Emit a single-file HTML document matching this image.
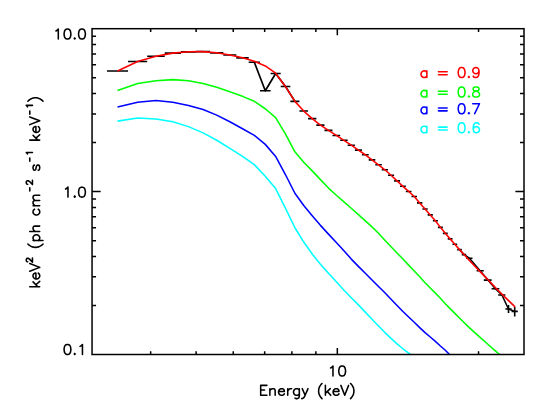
<!DOCTYPE html>
<html lang="en">
<head>
<meta charset="utf-8">
<title>Energy spectrum: keV2 (ph cm-2 s-1 keV-1) vs Energy (keV)</title>
<style>
html,body{margin:0;padding:0;background:#fff;}
body{width:551px;height:413px;overflow:hidden;font-family:"Liberation Sans",sans-serif;}
svg{display:block;}
</style>
</head>
<body>
<svg width="551" height="413" viewBox="0 0 551 413" style="display:block;font-family:'Liberation Sans',sans-serif">
<rect x="0" y="0" width="551" height="413" fill="#fff"/>
<polyline points="254.34,62.20 265.28,90.80 275.64,73.50 285.53,86.50 294.90,101.36" fill="none" stroke="#000" stroke-width="1.70" stroke-linejoin="round" />
<polyline points="459.46,249.62 464.01,254.60 469.40,258.20 480.10,270.80 487.90,280.10 495.40,288.80 501.90,295.00 508.50,309.00 514.70,311.40" fill="none" stroke="#000" stroke-width="1.55" stroke-linejoin="round" />
<path d="M107.04 70.95H128.05 M128.05 61.43H147.18 M147.18 56.32H164.73 M164.73 53.12H180.94 M180.94 51.83H196.02 M196.02 51.62H210.12 M210.12 52.85H223.35 M223.35 55.01H236.34 M236.34 57.83H248.71 M248.71 62.20H259.98 M259.98 90.80H270.58 M270.58 73.50H280.70 M280.70 86.50H290.37 M290.37 101.36H299.43 M299.43 111.06H308.05 M308.05 118.61H316.35 M316.35 125.08H324.49 M324.49 130.38H332.48 M332.48 135.45H340.20 M340.20 140.31H347.67 M347.67 145.20H354.90 M354.90 150.17H361.91 M361.91 154.76H368.71 M368.71 159.88H375.32 M375.32 164.78H381.75 M381.75 169.79H388.00 M388.00 175.25H394.09 M394.09 180.91H400.03 M400.03 186.32H405.83 M405.83 191.43H411.48 M411.48 196.55H417.01 M417.01 202.92H422.41 M422.41 209.01H427.69 M427.69 214.89H432.85 M432.85 220.79H437.91 M437.91 227.35H442.87 M442.87 233.35H447.73 M447.73 238.87H452.49 M452.49 244.31H457.17 M457.17 249.62H461.75 M461.75 254.60H466.26 M466.30 258.20H472.50 M476.60 270.80H483.80 M483.80 280.10H491.60 M491.60 288.80H499.30 M498.20 295.00H505.40 M505.40 309.00H511.60 M511.60 311.40H517.80 M508.5 304.9V313.1 M514.7 306.9V316.6" fill="none" stroke="#000" stroke-width="1.6"/>
<polyline points="117.54,70.95 137.62,61.43 155.95,56.32 172.83,53.12 188.48,51.83 203.07,51.62 216.73,52.85 229.85,55.01 242.53,57.83 254.34,61.33 265.28,65.92 275.64,73.17 285.53,86.68 294.90,101.36 303.74,111.06 312.20,118.61 320.42,125.08 328.49,130.38 336.34,135.45 343.93,140.31 351.28,145.20 358.40,150.17 365.31,154.76 372.01,159.88 378.53,164.78 384.87,169.79 391.05,175.25 397.06,180.91 402.93,186.32 408.65,191.43 414.24,196.55 419.71,202.92 425.05,209.01 430.27,214.89 435.38,220.79 440.39,227.35 445.30,233.35 450.11,238.87 454.83,244.31 459.46,249.62 464.01,254.60 469.40,260.53 480.10,271.65 487.90,279.63 495.40,287.58 501.90,294.15 508.50,300.63 515.10,306.90" fill="none" stroke="#ff0000" stroke-width="1.55" stroke-linejoin="round" />
<polyline points="117.54,90.55 137.62,83.52 155.95,80.65 172.83,79.61 188.48,80.80 203.07,83.40 216.73,87.34 229.85,91.67 242.53,96.34 254.34,101.31 265.28,108.76 275.64,117.63 285.53,134.16 294.90,151.83 303.74,162.32 312.20,170.88 320.42,179.63 328.49,188.06 336.34,195.24 343.93,201.84 351.28,208.23 358.40,214.63 365.31,220.84 372.01,226.88 378.53,233.28 384.87,240.16 391.05,246.72 397.06,252.97 402.93,259.08 408.65,265.10 414.24,270.99 419.71,276.80 425.05,282.70 430.27,288.07 435.38,293.13 440.39,298.20 445.30,303.68 450.11,308.66 454.83,313.33 459.46,317.97 464.01,322.50 468.47,326.87 472.85,330.94 479.26,336.70 487.58,344.02 495.63,351.05 499.60,354.50" fill="none" stroke="#00ff00" stroke-width="1.55" stroke-linejoin="round" />
<polyline points="117.54,106.96 137.62,102.16 155.95,100.50 172.83,102.22 188.48,105.46 203.07,109.52 216.73,115.10 229.85,121.79 242.53,128.71 254.34,135.39 265.28,144.38 275.64,156.41 285.53,174.77 294.90,193.25 303.74,205.52 312.20,215.75 320.42,225.37 328.49,234.12 336.34,242.50 343.93,250.68 351.28,259.11 358.40,266.41 365.31,273.27 372.01,280.02 378.53,286.52 384.87,292.77 391.05,299.24 397.06,305.43 402.93,311.43 408.65,317.02 414.24,322.30 419.71,327.64 425.05,332.65 430.27,337.02 435.38,341.40 440.39,345.99 445.30,350.29 449.50,354.50" fill="none" stroke="#0000ff" stroke-width="1.55" stroke-linejoin="round" />
<polyline points="117.54,121.13 137.62,118.10 155.95,119.05 172.83,121.73 188.48,126.63 203.07,132.90 216.73,140.25 229.85,148.40 242.53,156.32 254.34,164.65 265.28,176.19 275.64,188.58 285.53,208.35 294.90,227.74 303.74,242.07 312.20,254.05 320.42,264.19 328.49,273.24 336.34,281.84 343.93,290.26 351.28,297.78 358.40,304.92 365.31,312.10 372.01,319.20 378.53,325.93 384.87,332.57 391.05,338.42 397.06,343.87 402.93,348.76 408.65,353.12 410.60,354.50" fill="none" stroke="#00ffff" stroke-width="1.55" stroke-linejoin="round" />
<path d="M150.66 354.50v-3.25 M150.66 28.70v3.25 M196.12 354.50v-3.25 M196.12 28.70v3.25 M233.26 354.50v-3.25 M233.26 28.70v3.25 M264.67 354.50v-3.25 M264.67 28.70v3.25 M291.87 354.50v-3.25 M291.87 28.70v3.25 M315.86 354.50v-3.25 M315.86 28.70v3.25 M337.33 354.50v-6.50 M337.33 28.70v6.50 M478.54 354.50v-3.25 M478.54 28.70v3.25 M92.05 191.60h8.60 M524.00 191.60h-8.60 M92.05 142.56h4.00 M524.00 142.56h-4.00 M92.05 113.88h4.00 M524.00 113.88h-4.00 M92.05 93.52h4.00 M524.00 93.52h-4.00 M92.05 77.74h4.00 M524.00 77.74h-4.00 M92.05 64.84h4.00 M524.00 64.84h-4.00 M92.05 53.93h4.00 M524.00 53.93h-4.00 M92.05 44.49h4.00 M524.00 44.49h-4.00 M92.05 36.15h4.00 M524.00 36.15h-4.00 M92.05 305.46h4.00 M524.00 305.46h-4.00 M92.05 276.78h4.00 M524.00 276.78h-4.00 M92.05 256.42h4.00 M524.00 256.42h-4.00 M92.05 240.64h4.00 M524.00 240.64h-4.00 M92.05 227.74h4.00 M524.00 227.74h-4.00 M92.05 216.83h4.00 M524.00 216.83h-4.00 M92.05 207.39h4.00 M524.00 207.39h-4.00 M92.05 199.05h4.00 M524.00 199.05h-4.00" fill="none" stroke="#000" stroke-width="1.50"/>
<rect x="92.05" y="28.70" width="431.95" height="325.80" fill="none" stroke="#000" stroke-width="1.50" stroke-linejoin="miter"/>
<path d="M55.89 30.94 L56.85 30.47 L58.30 29.05 L58.30 39.00 M67.00 29.05 L65.55 29.52 L64.58 30.94 L64.10 33.31 L64.10 34.73 L64.58 37.10 L65.55 38.53 L67.00 39.00 L67.96 39.00 L69.41 38.53 L70.38 37.10 L70.86 34.73 L70.86 33.31 L70.38 30.94 L69.41 29.52 L67.96 29.05 L67.00 29.05 M74.72 38.05 L74.24 38.53 L74.72 39.00 L75.21 38.53 L74.72 38.05 M81.49 29.05 L80.04 29.52 L79.07 30.94 L78.59 33.31 L78.59 34.73 L79.07 37.10 L80.04 38.53 L81.49 39.00 L82.45 39.00 L83.90 38.53 L84.87 37.10 L85.35 34.73 L85.35 33.31 L84.87 30.94 L83.90 29.52 L82.45 29.05 L81.49 29.05" fill="none" stroke="#000" stroke-width="1.55" stroke-linecap="round" stroke-linejoin="round"/>
<path d="M65.55 189.04 L66.51 188.57 L67.96 187.15 L67.96 197.10 M74.72 196.15 L74.24 196.63 L74.72 197.10 L75.21 196.63 L74.72 196.15 M81.49 187.15 L80.04 187.62 L79.07 189.04 L78.59 191.41 L78.59 192.83 L79.07 195.20 L80.04 196.63 L81.49 197.10 L82.45 197.10 L83.90 196.63 L84.87 195.20 L85.35 192.83 L85.35 191.41 L84.87 189.04 L83.90 187.62 L82.45 187.15 L81.49 187.15" fill="none" stroke="#000" stroke-width="1.55" stroke-linecap="round" stroke-linejoin="round"/>
<path d="M67.00 344.45 L65.55 344.92 L64.58 346.34 L64.10 348.71 L64.10 350.13 L64.58 352.50 L65.55 353.93 L67.00 354.40 L67.96 354.40 L69.41 353.93 L70.38 352.50 L70.86 350.13 L70.86 348.71 L70.38 346.34 L69.41 344.92 L67.96 344.45 L67.00 344.45 M74.72 353.45 L74.24 353.93 L74.72 354.40 L75.21 353.93 L74.72 353.45 M80.04 346.34 L81.00 345.87 L82.45 344.45 L82.45 354.40" fill="none" stroke="#000" stroke-width="1.55" stroke-linecap="round" stroke-linejoin="round"/>
<path d="M330.57 367.94 L331.53 367.47 L332.98 366.05 L332.98 376.00 M341.68 366.05 L340.23 366.52 L339.26 367.94 L338.78 370.31 L338.78 371.73 L339.26 374.10 L340.23 375.53 L341.68 376.00 L342.64 376.00 L344.09 375.53 L345.06 374.10 L345.54 371.73 L345.54 370.31 L345.06 367.94 L344.09 366.52 L342.64 366.05 L341.68 366.05" fill="none" stroke="#000" stroke-width="1.55" stroke-linecap="round" stroke-linejoin="round"/>
<path d="M260.68 385.35 L260.68 395.30 M260.68 385.35 L266.96 385.35 M260.68 390.09 L264.55 390.09 M260.68 395.30 L266.96 395.30 M269.86 388.66 L269.86 395.30 M269.86 390.56 L271.31 389.14 L272.27 388.66 L273.72 388.66 L274.69 389.14 L275.17 390.56 L275.17 395.30 M278.55 391.51 L284.35 391.51 L284.35 390.56 L283.87 389.61 L283.38 389.14 L282.42 388.66 L280.97 388.66 L280.00 389.14 L279.04 390.09 L278.55 391.51 L278.55 392.46 L279.04 393.88 L280.00 394.83 L280.97 395.30 L282.42 395.30 L283.38 394.83 L284.35 393.88 M287.73 388.66 L287.73 395.30 M287.73 391.51 L288.21 390.09 L289.18 389.14 L290.14 388.66 L291.59 388.66 M299.32 388.66 L299.32 396.25 L298.84 397.67 L298.36 398.14 L297.39 398.62 L295.94 398.62 L294.98 398.14 M299.32 390.09 L298.36 389.14 L297.39 388.66 L295.94 388.66 L294.98 389.14 L294.01 390.09 L293.53 391.51 L293.53 392.46 L294.01 393.88 L294.98 394.83 L295.94 395.30 L297.39 395.30 L298.36 394.83 L299.32 393.88 M302.22 388.66 L305.12 395.30 M308.02 388.66 L305.12 395.30 L304.15 397.20 L303.19 398.14 L302.22 398.62 L301.74 398.62 M322.02 383.45 L321.06 384.40 L320.09 385.82 L319.12 387.72 L318.64 390.09 L318.64 391.98 L319.12 394.35 L320.09 396.25 L321.06 397.67 L322.02 398.62 M325.40 385.35 L325.40 395.30 M330.23 388.66 L325.40 393.40 M327.34 391.51 L330.72 395.30 M333.13 391.51 L338.93 391.51 L338.93 390.56 L338.44 389.61 L337.96 389.14 L337.00 388.66 L335.55 388.66 L334.58 389.14 L333.62 390.09 L333.13 391.51 L333.13 392.46 L333.62 393.88 L334.58 394.83 L335.55 395.30 L337.00 395.30 L337.96 394.83 L338.93 393.88 M340.86 385.35 L344.72 395.30 M348.59 385.35 L344.72 395.30 M350.52 383.45 L351.49 384.40 L352.45 385.82 L353.42 387.72 L353.90 390.09 L353.90 391.98 L353.42 394.35 L352.45 396.25 L351.49 397.67 L350.52 398.62" fill="none" stroke="#000" stroke-width="1.55" stroke-linecap="round" stroke-linejoin="round"/>
<path d="M29.75 286.67 L39.70 286.67 M33.06 281.84 L37.80 286.67 M35.91 284.74 L39.70 281.36 M35.91 278.94 L35.91 273.14 L34.96 273.14 L34.01 273.63 L33.54 274.11 L33.06 275.08 L33.06 276.53 L33.54 277.49 L34.49 278.46 L35.91 278.94 L36.86 278.94 L38.28 278.46 L39.23 277.49 L39.70 276.53 L39.70 275.08 L39.23 274.11 L38.28 273.14 M29.75 271.21 L39.70 267.35 M29.75 263.48 L39.70 267.35 M27.75 261.80 L27.45 261.80 L26.86 261.50 L26.57 261.20 L26.28 260.61 L26.28 259.41 L26.57 258.81 L26.86 258.51 L27.45 258.21 L28.04 258.21 L28.63 258.51 L29.51 259.11 L32.45 262.10 L32.45 257.91 M27.85 243.97 L28.80 244.94 L30.22 245.90 L32.12 246.87 L34.49 247.35 L36.38 247.35 L38.75 246.87 L40.65 245.90 L42.07 244.94 L43.02 243.97 M33.06 240.59 L43.02 240.59 M34.49 240.59 L33.54 239.62 L33.06 238.66 L33.06 237.21 L33.54 236.24 L34.49 235.28 L35.91 234.79 L36.86 234.79 L38.28 235.28 L39.23 236.24 L39.70 237.21 L39.70 238.66 L39.23 239.62 L38.28 240.59 M29.75 231.41 L39.70 231.41 M34.96 231.41 L33.54 229.96 L33.06 229.00 L33.06 227.55 L33.54 226.58 L34.96 226.10 L39.70 226.10 M34.49 209.19 L33.54 210.16 L33.06 211.13 L33.06 212.58 L33.54 213.54 L34.49 214.51 L35.91 214.99 L36.86 214.99 L38.28 214.51 L39.23 213.54 L39.70 212.58 L39.70 211.13 L39.23 210.16 L38.28 209.19 M33.06 205.81 L39.70 205.81 M34.96 205.81 L33.54 204.36 L33.06 203.40 L33.06 201.95 L33.54 200.98 L34.96 200.50 L39.70 200.50 M34.96 200.50 L33.54 199.05 L33.06 198.09 L33.06 196.64 L33.54 195.67 L34.96 195.19 L39.70 195.19 M29.80 191.01 L29.80 187.72 M27.75 184.27 L27.45 184.27 L26.86 183.97 L26.57 183.67 L26.28 183.07 L26.28 181.88 L26.57 181.28 L26.86 180.98 L27.45 180.68 L28.04 180.68 L28.63 180.98 L29.51 181.58 L32.45 184.57 L32.45 180.38 M34.49 164.99 L33.54 165.47 L33.06 166.92 L33.06 168.37 L33.54 169.82 L34.49 170.30 L35.43 169.82 L35.91 168.85 L36.38 166.44 L36.86 165.47 L37.80 164.99 L38.28 164.99 L39.23 165.47 L39.70 166.92 L39.70 168.37 L39.23 169.82 L38.28 170.30 M29.80 161.30 L29.80 158.00 M27.45 153.96 L27.16 153.36 L26.28 152.46 L32.45 152.46 M29.75 140.11 L39.70 140.11 M33.06 135.28 L37.80 140.11 M35.91 138.17 L39.70 134.79 M35.91 132.38 L35.91 126.58 L34.96 126.58 L34.01 127.07 L33.54 127.55 L33.06 128.51 L33.06 129.96 L33.54 130.93 L34.49 131.90 L35.91 132.38 L36.86 132.38 L38.28 131.90 L39.23 130.93 L39.70 129.96 L39.70 128.51 L39.23 127.55 L38.28 126.58 M29.75 124.65 L39.70 120.79 M29.75 116.92 L39.70 120.79 M29.80 114.19 L29.80 110.90 M27.45 106.86 L27.16 106.26 L26.28 105.36 L32.45 105.36 M27.85 101.22 L28.80 100.25 L30.22 99.28 L32.12 98.32 L34.49 97.83 L36.38 97.83 L38.75 98.32 L40.65 99.28 L42.07 100.25 L43.02 101.22" fill="none" stroke="#000" stroke-width="1.55" stroke-linecap="round" stroke-linejoin="round"/>
<path d="M426.85 70.86 L426.85 77.50 M426.85 72.29 L425.88 71.34 L424.91 70.86 L423.46 70.86 L422.50 71.34 L421.53 72.29 L421.05 73.71 L421.05 74.66 L421.53 76.08 L422.50 77.03 L423.46 77.50 L424.91 77.50 L425.88 77.03 L426.85 76.08 M438.44 71.81 L447.13 71.81 M438.44 74.66 L447.13 74.66 M461.14 67.55 L459.69 68.02 L458.72 69.44 L458.24 71.81 L458.24 73.23 L458.72 75.60 L459.69 77.03 L461.14 77.50 L462.10 77.50 L463.55 77.03 L464.52 75.60 L465.00 73.23 L465.00 71.81 L464.52 69.44 L463.55 68.02 L462.10 67.55 L461.14 67.55 M468.87 76.55 L468.38 77.03 L468.87 77.50 L469.35 77.03 L468.87 76.55 M479.01 70.86 L478.53 72.29 L477.56 73.23 L476.11 73.71 L475.63 73.71 L474.18 73.23 L473.21 72.29 L472.73 70.86 L472.73 70.39 L473.21 68.97 L474.18 68.02 L475.63 67.55 L476.11 67.55 L477.56 68.02 L478.53 68.97 L479.01 70.86 L479.01 73.23 L478.53 75.60 L477.56 77.03 L476.11 77.50 L475.15 77.50 L473.70 77.03 L473.21 76.08" fill="none" stroke="#ff0000" stroke-width="1.55" stroke-linecap="round" stroke-linejoin="round"/>
<path d="M426.85 90.36 L426.85 97.00 M426.85 91.79 L425.88 90.84 L424.91 90.36 L423.46 90.36 L422.50 90.84 L421.53 91.79 L421.05 93.21 L421.05 94.16 L421.53 95.58 L422.50 96.53 L423.46 97.00 L424.91 97.00 L425.88 96.53 L426.85 95.58 M438.44 91.31 L447.13 91.31 M438.44 94.16 L447.13 94.16 M461.14 87.05 L459.69 87.52 L458.72 88.94 L458.24 91.31 L458.24 92.73 L458.72 95.10 L459.69 96.53 L461.14 97.00 L462.10 97.00 L463.55 96.53 L464.52 95.10 L465.00 92.73 L465.00 91.31 L464.52 88.94 L463.55 87.52 L462.10 87.05 L461.14 87.05 M468.87 96.05 L468.38 96.53 L468.87 97.00 L469.35 96.53 L468.87 96.05 M475.15 87.05 L473.70 87.52 L473.21 88.47 L473.21 89.42 L473.70 90.36 L474.66 90.84 L476.59 91.31 L478.04 91.79 L479.01 92.73 L479.49 93.68 L479.49 95.10 L479.01 96.05 L478.53 96.53 L477.08 97.00 L475.15 97.00 L473.70 96.53 L473.21 96.05 L472.73 95.10 L472.73 93.68 L473.21 92.73 L474.18 91.79 L475.63 91.31 L477.56 90.84 L478.53 90.36 L479.01 89.42 L479.01 88.47 L478.53 87.52 L477.08 87.05 L475.15 87.05" fill="none" stroke="#00ff00" stroke-width="1.55" stroke-linecap="round" stroke-linejoin="round"/>
<path d="M426.85 107.06 L426.85 113.70 M426.85 108.49 L425.88 107.54 L424.91 107.06 L423.46 107.06 L422.50 107.54 L421.53 108.49 L421.05 109.91 L421.05 110.86 L421.53 112.28 L422.50 113.23 L423.46 113.70 L424.91 113.70 L425.88 113.23 L426.85 112.28 M438.44 108.01 L447.13 108.01 M438.44 110.86 L447.13 110.86 M461.14 103.75 L459.69 104.22 L458.72 105.64 L458.24 108.01 L458.24 109.43 L458.72 111.80 L459.69 113.23 L461.14 113.70 L462.10 113.70 L463.55 113.23 L464.52 111.80 L465.00 109.43 L465.00 108.01 L464.52 105.64 L463.55 104.22 L462.10 103.75 L461.14 103.75 M468.87 112.75 L468.38 113.23 L468.87 113.70 L469.35 113.23 L468.87 112.75 M479.49 103.75 L474.66 113.70 M472.73 103.75 L479.49 103.75" fill="none" stroke="#0000ff" stroke-width="1.55" stroke-linecap="round" stroke-linejoin="round"/>
<path d="M426.85 126.16 L426.85 132.80 M426.85 127.59 L425.88 126.64 L424.91 126.16 L423.46 126.16 L422.50 126.64 L421.53 127.59 L421.05 129.01 L421.05 129.96 L421.53 131.38 L422.50 132.33 L423.46 132.80 L424.91 132.80 L425.88 132.33 L426.85 131.38 M438.44 127.11 L447.13 127.11 M438.44 129.96 L447.13 129.96 M461.14 122.85 L459.69 123.32 L458.72 124.74 L458.24 127.11 L458.24 128.53 L458.72 130.90 L459.69 132.33 L461.14 132.80 L462.10 132.80 L463.55 132.33 L464.52 130.90 L465.00 128.53 L465.00 127.11 L464.52 124.74 L463.55 123.32 L462.10 122.85 L461.14 122.85 M468.87 131.85 L468.38 132.33 L468.87 132.80 L469.35 132.33 L468.87 131.85 M479.01 124.27 L478.53 123.32 L477.08 122.85 L476.11 122.85 L474.66 123.32 L473.70 124.74 L473.21 127.11 L473.21 129.48 L473.70 131.38 L474.66 132.33 L476.11 132.80 L476.59 132.80 L478.04 132.33 L479.01 131.38 L479.49 129.96 L479.49 129.48 L479.01 128.06 L478.04 127.11 L476.59 126.64 L476.11 126.64 L474.66 127.11 L473.70 128.06 L473.21 129.48" fill="none" stroke="#00ffff" stroke-width="1.55" stroke-linecap="round" stroke-linejoin="round"/>
</svg>
</body>
</html>
